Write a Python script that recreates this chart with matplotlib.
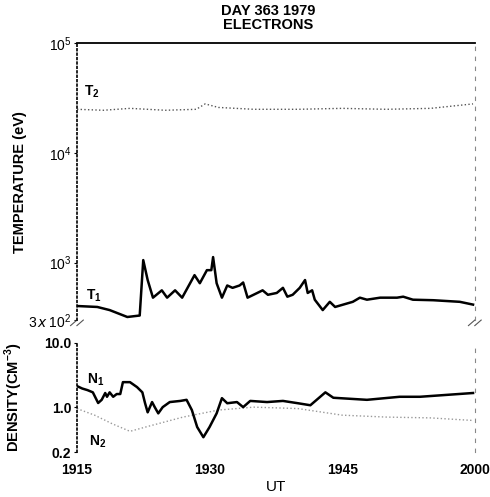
import numpy as np
import matplotlib
matplotlib.use('Agg')
import matplotlib.pyplot as plt

plt.rcParams['font.family'] = ['Liberation Sans', 'DejaVu Sans']
plt.rcParams['mathtext.fontset'] = 'custom'
plt.rcParams['mathtext.rm'] = 'Liberation Sans'
plt.rcParams['mathtext.bf'] = 'Liberation Sans:bold'

# minutes after 19:15 UT
t1_time = [0, 2.3, 3.7, 5.7, 7.1, 7.5, 8.0, 8.6, 9.6, 10.2, 11.1, 11.9, 13.3, 13.9, 14.7,
           15.2, 15.4, 15.8, 16.4, 17.0, 17.6, 18.4, 18.8, 19.3, 20.4, 21.0, 21.6, 22.6,
           23.3, 23.8, 24.4, 25.2, 25.8, 26.1, 26.6, 26.9, 27.8, 28.6, 29.2, 31.2, 32.0,
           32.8, 34.3, 36.2, 36.9, 38.0, 40.3, 43.3, 44.8]
t1_vals = [403, 395, 370, 320, 330, 1056, 695, 480, 560, 480, 560, 480, 770, 650, 855,
           855, 1125, 650, 480, 620, 590, 620, 660, 480, 530, 560, 510, 530,
           590, 490, 510, 590, 695, 530, 560, 460, 370, 440, 395, 440, 480,
           460, 480, 480, 490, 460, 455, 440, 415]

t2_time = [0, 3, 6, 10, 13.5, 14.5, 16, 20, 25, 30, 35, 40, 44.8]
t2_vals = [2.5e4, 2.45e4, 2.55e4, 2.45e4, 2.5e4, 2.8e4, 2.6e4, 2.5e4, 2.5e4, 2.55e4,
           2.5e4, 2.55e4, 2.8e4]

n1_time = [0, 0.6, 1.2, 1.8, 2.4, 2.8, 3.2, 3.4, 3.7, 4.1, 4.5, 4.9, 5.2, 6.0, 6.8,
           7.4, 7.7, 8.0, 8.5, 8.8, 9.2, 9.7, 10.5, 11.7, 12.4, 13.0, 13.6, 14.3, 15.0,
           15.8, 16.4, 17.0, 18.1, 18.8, 19.6, 21.5, 23.3, 25.0, 26.4, 28.1, 29.0, 32.8,
           36.5, 38.8, 44.8]
n1_vals = [2.13, 1.95, 1.84, 1.7, 1.16, 1.3, 1.66, 1.45, 1.7, 1.45, 1.6, 1.6, 2.45, 2.45,
           2.05, 1.7, 1.16, 0.83, 1.2, 1.0, 0.8, 1.0, 1.2, 1.25, 1.3, 0.9, 0.49, 0.34, 0.49,
           0.8, 1.38, 1.15, 1.2, 1.0, 1.25, 1.2, 1.25, 1.15, 1.07, 1.7, 1.4, 1.3,
           1.45, 1.45, 1.66]

n2_time = [0, 2, 4, 6, 8, 12, 16, 20, 25, 30, 35, 40, 44.8]
n2_vals = [0.95, 0.75, 0.55, 0.42, 0.5, 0.7, 0.9, 1.0, 0.95, 0.75, 0.7, 0.68, 0.62]

x_ticks = [0, 15, 30, 45]
x_labels = ['1915', '1930', '1945', '2000']
t_ticks = [1e5, 1e4, 1e3, 3e2]
t_labels = ['$10^5$', '$10^4$', '$10^3$', '$3\\,x\\,10^2$']
n_ticks = [10.0, 1.0, 0.2]
n_labels = ['10.0', '1.0', '0.2']

fig = plt.figure(figsize=(4.9, 4.97), dpi=100)
ax1 = fig.add_axes([0.157, 0.356, 0.812, 0.557])
ax2 = fig.add_axes([0.157, 0.0905, 0.812, 0.2195])

for ax in (ax1, ax2):
    ax.set_yscale('log')
    ax.set_xlim(0, 45)
    ax.spines['left'].set_linestyle(':')
    ax.spines['left'].set_linewidth(1.2)
    ax.spines['right'].set_linestyle((0, (3, 6)))
    ax.spines['right'].set_color('#888888')
    ax.spines['bottom'].set_visible(False)
    ax.tick_params(axis='y', which='both', length=2, width=0.8, pad=2)
    ax.tick_params(axis='x', length=0)
    ax.minorticks_off()

# temperature panel
ax1.plot(t1_time, t1_vals, color='black', lw=1.8)
ax1.plot(t2_time, t2_vals, color='#555555', lw=1.0, ls=':')
ax1.set_ylim(3e2, 1e5)
ax1.set_yticks(t_ticks)
ax1.set_yticklabels(t_labels, fontsize=10)
ax1.set_xticks([])
ax1.spines['top'].set_linewidth(1.3)
ax1.set_ylabel('TEMPERATURE (eV)', fontsize=10.5, fontweight='bold')
ax1.yaxis.set_label_coords(-0.125, 0.5)
ax1.text(0.8, 3.3e4, '$\\mathbf{T_2}$', fontsize=10)
ax1.text(1.0, 4.6e2, '$\\mathbf{T_1}$', fontsize=10)
ax1.set_title('DAY 363 1979\nELECTRONS', fontsize=10.5, fontweight='bold',
              x=0.48, pad=10, linespacing=1.0)

# break marks
for xb in (0, 1):
    for dx in (-0.008, 0.008):
        ax1.plot([xb + dx - 0.008, xb + dx + 0.008], [-0.02, 0.0], transform=ax1.transAxes,
                 color='#555555', lw=0.8, clip_on=False)

# density panel
ax2.plot(n2_time, n2_vals, color='#999999', lw=1.0, ls=':')
ax2.plot(n1_time, n1_vals, color='black', lw=1.8)
ax2.set_ylim(0.2, 10.0)
ax2.set_yticks(n_ticks)
ax2.set_yticklabels(n_labels, fontsize=10, fontweight='bold')
ax2.spines['top'].set_visible(False)
ax2.set_xticks(x_ticks)
ax2.set_xticklabels(x_labels, fontsize=10, fontweight='bold')
ax2.tick_params(axis='x', pad=8)
ax2.set_ylabel('DENSITY(CM$^{\\mathbf{-3}}$)', fontsize=10.5, fontweight='bold')
ax2.yaxis.set_label_coords(-0.13, 0.5)
ax2.set_xlabel('UT', fontsize=11, labelpad=2)
ax2.text(1.1, 2.3, '$\\mathbf{N_1}$', fontsize=10)
ax2.text(1.4, 0.25, '$\\mathbf{N_2}$', fontsize=10)

fig.savefig('out.png', dpi=100)
